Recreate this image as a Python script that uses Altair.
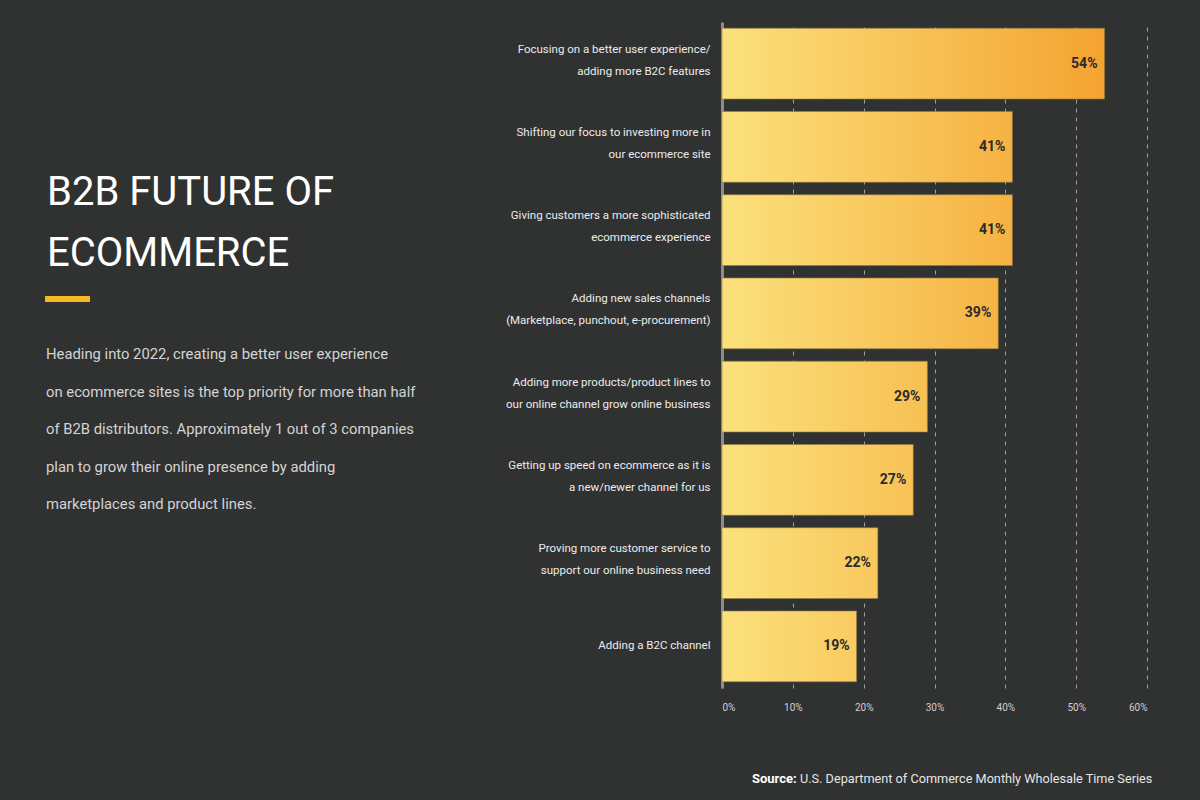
import altair as alt
import pandas as pd

categories = [
    "Focusing on a better user experience/|adding more B2C features",
    "Shifting our focus to investing more in|our ecommerce site",
    "Giving customers a more sophisticated|ecommerce experience",
    "Adding new sales channels|(Marketplace, punchout, e-procurement)",
    "Adding more products/product lines to|our online channel grow online business",
    "Getting up speed on ecommerce as it is|a new/newer channel for us",
    "Proving more customer service to|support our online business need",
    "Adding a B2C channel",
]
values = [54, 41, 41, 39, 29, 27, 22, 19]
value_labels = ["54%", "41%", "41%", "39%", "29%", "27%", "22%", "19%"]
x_ticks = [0, 10, 20, 30, 40, 50, 60]

title_lines = ["B2B FUTURE OF", "ECOMMERCE"]
paragraph = [
    "Heading into 2022, creating a better user experience",
    "on ecommerce sites is the top priority for more than half",
    "of B2B distributors. Approximately 1 out of 3 companies",
    "plan to grow their online presence by adding",
    "marketplaces and product lines.",
]
source_bold = "Source:"
source_rest = "U.S. Department of Commerce Monthly Wholesale Time Series"

df = pd.DataFrame({"category": categories, "value": values, "label": value_labels})

FONT = "Roboto, sans-serif"
BG = "#303131"
W, H = 425, 666
LEFT, TOP = 722, 22

start = (0xFB, 0xE1, 0x7C)
end = (0xF4, 0xA3, 0x30)


def lerp_hex(t):
    c = [round(a + (b - a) * t) for a, b in zip(start, end)]
    return "#%02x%02x%02x" % tuple(c)


x_enc = alt.X(
    "value:Q",
    scale=alt.Scale(domain=[0, 60], nice=False),
    axis=alt.Axis(
        values=x_ticks,
        labelExpr="datum.value + '%'",
        grid=True,
        gridColor="#a0a0a0",
        gridDash=[4, 5],
        gridWidth=1,
        domain=False,
        ticks=False,
        labelColor="#d0d0d0",
        labelFont=FONT,
        labelFontSize=10,
        labelPadding=14,
        title=None,
    ),
)
y_enc = alt.Y(
    "category:N",
    scale=alt.Scale(domain=categories, paddingInner=0.15, paddingOuter=0.075),
    axis=alt.Axis(
        labelExpr="split(datum.label, '|')",
        labelColor="#ececec",
        labelFont=FONT,
        labelFontSize=11.5,
        labelLineHeight=22,
        labelPadding=12,
        labelLimit=300,
        labelOffset=alt.condition("indexof(datum.value, '|') >= 0", alt.value(-14), alt.value(0)),
        ticks=False,
        domain=True,
        domainColor="#8c8c8c",
        domainWidth=3,
        grid=False,
        title=None,
    ),
)

base = alt.Chart(df).encode(x=x_enc, y=y_enc)

layers = []
for cat, v in zip(categories, values):
    grad = alt.LinearGradient(
        gradient="linear",
        stops=[
            alt.GradientStop(color=lerp_hex(0), offset=0),
            alt.GradientStop(color=lerp_hex(v / 54), offset=1),
        ],
        x1=0, x2=1, y1=0, y2=0,
    )
    layers.append(
        base.transform_filter(alt.datum.category == cat).mark_bar(color=grad, stroke="#8f7c44", strokeWidth=0.6)
    )

texts = base.mark_text(
    align="right", baseline="middle", dx=-7, font=FONT, fontSize=14,
    fontWeight="bold", color="#2a2a2a",
).encode(text="label:N")

one = pd.DataFrame({"a": [0]})

title_layers = [
    alt.Chart(one).mark_text(
        align="left", baseline="alphabetic", font=FONT, fontSize=40,
        fontWeight="normal", color="#ffffff",
    ).encode(x=alt.value(47 - LEFT), y=alt.value(yy - TOP), text=alt.value(t))
    for t, yy in zip(title_lines, [205, 266])
]

underline = alt.Chart(one).mark_rule(color="#f5b921", strokeWidth=6).encode(
    x=alt.value(45 - LEFT), x2=alt.value(90 - LEFT), y=alt.value(299 - TOP)
)

para = alt.Chart(one).mark_text(
    align="left", baseline="middle", font=FONT, fontSize=14.8,
    color="#d4d4d4", lineHeight=37.5,
).encode(x=alt.value(46 - LEFT), y=alt.value(355 - TOP), text=alt.value(paragraph))

src1 = alt.Chart(one).mark_text(
    align="left", baseline="middle", font=FONT, fontSize=13, fontWeight="bold", color="#ffffff",
).encode(x=alt.value(752 - LEFT), y=alt.value(779 - TOP), text=alt.value(source_bold))
src2 = alt.Chart(one).mark_text(
    align="left", baseline="middle", font=FONT, fontSize=12.7, color="#e6e6e6",
).encode(x=alt.value(800 - LEFT), y=alt.value(779 - TOP), text=alt.value(source_rest))

chart = alt.layer(
    *layers, texts, *title_layers, underline, para, src1, src2
).properties(
    width=W, height=H,
    background=BG,
    padding={"left": LEFT, "top": TOP, "right": 1200 - LEFT - W, "bottom": 800 - TOP - H},
    autosize=alt.AutoSizeParams(type="none"),
).configure_view(stroke=None)

chart.save("out.html", embed_options={"renderer": "svg", "actions": False})
